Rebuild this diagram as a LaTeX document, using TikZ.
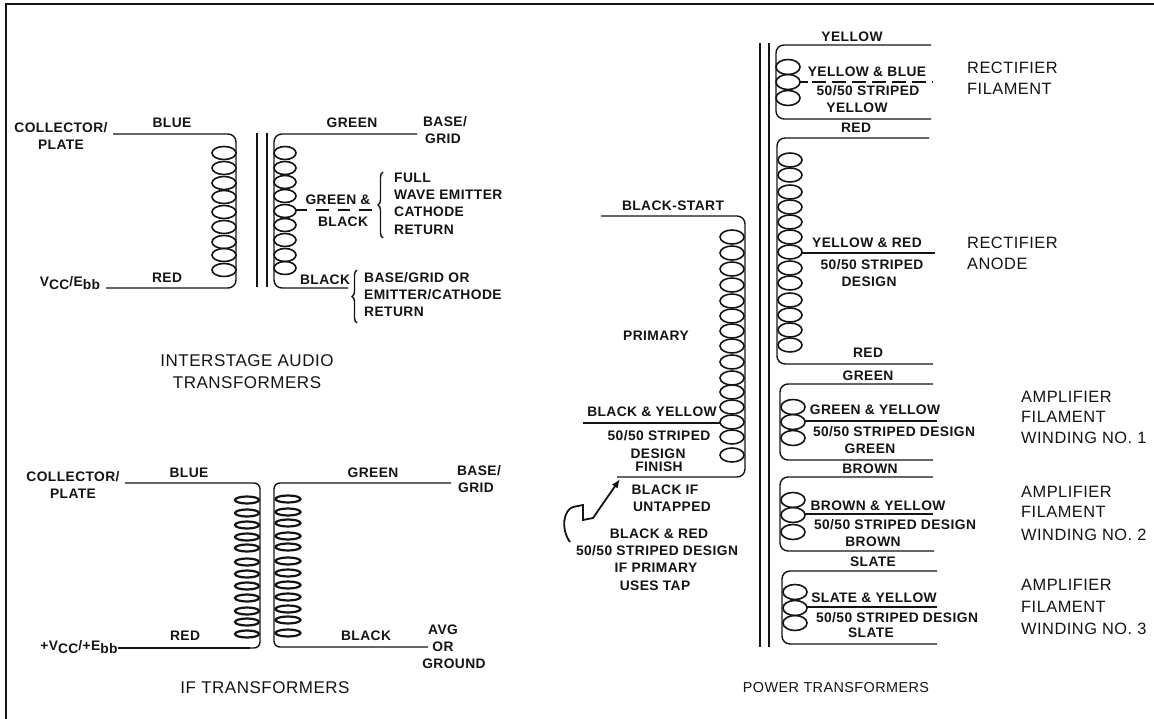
\documentclass[tikz,border=0pt]{standalone}
\usepackage{fontspec}
\setmainfont{Liberation Sans}[LetterSpace=3]
\usetikzlibrary{arrows.meta,decorations.pathreplacing}
\definecolor{wirecol}{RGB}{20,20,20}
\newcommand{\lowtxt}[1]{\raisebox{-3.5pt}{#1}}
\tikzset{
  wire/.style={wirecol, line width=1.4pt, rounded corners=8pt},
  tapline/.style={wirecol, line width=1.5pt},
  stripe/.style={wirecol, line width=1.7pt, dash pattern=on 12.5pt off 9pt},
  corebar/.style={wirecol, line width=1.3pt},
  loopa/.style={wirecol, line width=1.6pt},
  lbl/.style={font=\fontsize{13.8}{16}\selectfont\bfseries, inner sep=0pt, text=wirecol},
  sidelbl/.style={lbl, anchor=west},
  bigleg/.style={font=\fontsize{17}{19}\selectfont, inner sep=0pt, text=wirecol},
  bigside/.style={bigleg, anchor=west, font=\fontsize{16.4}{19}\selectfont},
  curly/.style={wirecol, line width=1.4pt, decorate, decoration={brace, amplitude=5pt}}
}
\begin{document}
\begin{tikzpicture}[x=1pt,y=-1pt]
\useasboundingbox (0,0) rectangle (1154,719);
% Frame
\draw[wirecol, line width=1.6pt] (6,719) -- (6,4) -- (1154,4);
% Interstage audio, left winding
\coordinate (iaPlate) at (113,134);
\coordinate (iaVcc) at (106,288);
\draw[wire] (iaPlate) -| (236,210) |- (iaVcc);
\foreach \y in {153,168,183,197,212,227,242,255,270}
  \draw[loopa] (224,\y) ellipse (12 and 6.5);
\node[lbl] (iaCollector) at (61,128) {COLLECTOR/};
\node[lbl] (iaPlateLbl) at (61,145) {PLATE};
\node[lbl] (iaBlue) at (172,123) {BLUE};
\node[lbl] (iaRed) at (167,278) {RED};
\node[lbl] (iaVccLbl) at (70,283) {V\lowtxt{CC}/E\lowtxt{bb}};
% Interstage audio, core
\coordinate (iaCoreA) at (257,133);
\coordinate (iaCoreB) at (267,133);
\draw[corebar] (iaCoreA) -- ++(0,154);
\draw[corebar] (iaCoreB) -- ++(0,154);
% Interstage audio, right winding
\coordinate (iaBase) at (417,134);
\coordinate (iaBlack) at (348,288);
\draw[wire] (iaBase) -| (274,210) |- (iaBlack);
\foreach \y in {153,168,182,196,211,225,240,255,268}
  \draw[loopa] (285,\y) ellipse (11 and 6.5);
\coordinate (iaTapA) at (295,210);
\coordinate (iaTapB) at (307,210);
\coordinate (iaTapC) at (373,210);
\draw[tapline] (iaTapA) -- (iaTapB);
\draw[stripe] (316,210) -- (iaTapC);
\node[lbl] (iaGreen) at (352,123) {GREEN};
\node[lbl] (iaBaseLbl) at (445,122) {BASE/};
\node[lbl] (iaGrid) at (443,139) {GRID};
\node[lbl] (iaGreenAnd) at (338,200) {GREEN \&};
\node[lbl] (iaBlackLbl) at (343,222) {BLACK};
\node[lbl] (iaBlackEnd) at (325,280) {BLACK};
\draw[curly] (383,238) -- (383,172);
\node[sidelbl] (iaFull) at (394,178) {FULL};
\node[sidelbl] (iaWave) at (394,195) {WAVE EMITTER};
\node[sidelbl] (iaCathode) at (394,212) {CATHODE};
\node[sidelbl] (iaReturn) at (394,230) {RETURN};
\draw[curly] (357,323) -- (357,270);
\node[sidelbl] (iaBaseGrid) at (364,278) {BASE/GRID OR};
\node[sidelbl] (iaEmitter) at (364,295) {EMITTER/CATHODE};
\node[sidelbl] (iaReturnB) at (364,312) {RETURN};
\node[bigleg] (iaTitleA) at (247,361) {INTERSTAGE AUDIO};
\node[bigleg] (iaTitleB) at (247,383) {TRANSFORMERS};
% IF transformers
\coordinate (ifPlate) at (125,483);
\coordinate (ifVcc) at (118,648);
\draw[wire, rounded corners=6pt] (ifPlate) -| (260,560) |- (ifVcc);
\draw[wirecol, line width=2.2pt] (ifVcc) -- (250,648);
\foreach \y in {500,513,525,537,548,562,574,586,598,611,622,634}
  \draw[loopa, line width=2.2pt] (247,\y) ellipse (12 and 3.5);
\coordinate (ifBase) at (451,483);
\coordinate (ifAvg) at (428,647);
\draw[wire, rounded corners=6pt] (ifBase) -| (274,560) |- (ifAvg);
\foreach \y in {499,512,523,536,547,561,573,585,597,609,620,633}
  \draw[loopa, line width=2.2pt] (288,\y) ellipse (12.5 and 3.5);
\node[lbl] (ifCollector) at (73,477) {COLLECTOR/};
\node[lbl] (ifPlateLbl) at (73,494) {PLATE};
\node[lbl] (ifBlue) at (189,473) {BLUE};
\node[lbl] (ifRed) at (185,636) {RED};
\node[lbl] (ifVccLbl) at (79,647) {+V\lowtxt{CC}/+E\lowtxt{bb}};
\node[lbl] (ifGreen) at (373,473) {GREEN};
\node[lbl] (ifBaseLbl) at (479,471) {BASE/};
\node[lbl] (ifGrid) at (476,488) {GRID};
\node[lbl] (ifBlack) at (366,636) {BLACK};
\node[lbl] (ifAvgLbl) at (443,630) {AVG};
\node[lbl] (ifOr) at (443,647) {OR};
\node[lbl] (ifGround) at (454,664) {GROUND};
\node[bigleg] (ifTitle) at (265,688) {IF TRANSFORMERS};
% Power transformers, primary
\coordinate (ptStart) at (601,216);
\coordinate (ptFinish) at (617,477);
\draw[wire] (ptStart) -| (745,340) |- (ptFinish);
\foreach \y in {237,253,269,285,301,316,331,346,362,378,392,407,422,437,455}
  \draw[loopa] (732,\y) ellipse (12 and 7);
\coordinate (ptTapA) at (583,423);
\coordinate (ptTapB) at (720,423);
\draw[tapline] (ptTapA) -- (ptTapB);
\node[lbl] (ptBlackStart) at (673,206) {BLACK-START};
\node[lbl] (ptPrimary) at (656,336) {PRIMARY};
\node[lbl] (ptBlackYellow) at (652,412) {BLACK \& YELLOW};
\node[lbl] (ptStripedA) at (659,436) {50/50 STRIPED};
\node[lbl] (ptDesignA) at (658,454) {DESIGN};
\node[lbl] (ptFinishLbl) at (659,467) {FINISH};
\node[lbl] (ptBlackIf) at (665,490) {BLACK IF};
\node[lbl] (ptUntapped) at (672,507) {UNTAPPED};
\node[lbl] (ptBlackRed) at (659,534) {BLACK \& RED};
\node[lbl] (ptStripedB) at (657,551) {50/50 STRIPED DESIGN};
\node[lbl] (ptIfPrimary) at (656,568) {IF PRIMARY};
\node[lbl] (ptUsesTap) at (655,586) {USES TAP};
\coordinate (ptPointer) at (570,542);
\coordinate (ptPointerEnd) at (620,479);
\draw[wirecol, line width=1.8pt, -{Latex[length=9pt,width=7pt]}] (ptPointer)
  .. controls (560,528) and (564,510) .. (573,507) -- (583,505) -- (583,520) -- (593,518) -- (ptPointerEnd);
% Power transformers, core
\coordinate (ptCoreA) at (760,43);
\coordinate (ptCoreB) at (769,43);
\draw[corebar] (ptCoreA) -- ++(0,604);
\draw[corebar] (ptCoreB) -- ++(0,604);
% Rectifier filament
\coordinate (rfTop) at (931,45);
\coordinate (rfBot) at (931,119);
\draw[wire] (rfTop) -| (776,82) |- (rfBot);
\foreach \y in {67,82,98}
  \draw[loopa] (788,\y) ellipse (12 and 7.5);
\coordinate (rfTapA) at (800,82);
\coordinate (rfTapB) at (933,82);
\draw[tapline] (rfTapA) -- (808,82);
\draw[stripe, dash pattern=on 13.5pt off 6.5pt] (812,82) -- (rfTapB);
\node[lbl] (rfYellowA) at (852,37) {YELLOW};
\node[lbl] (rfYellowBlue) at (867,72) {YELLOW \& BLUE};
\node[lbl] (rfStriped) at (868,91) {50/50 STRIPED};
\node[lbl] (rfYellowB) at (857,108) {YELLOW};
\node[bigside] (rfNameA) at (967,68) {RECTIFIER};
\node[bigside] (rfNameB) at (967,89) {FILAMENT};
% Rectifier anode
\coordinate (raTop) at (929,138);
\coordinate (raBot) at (933,364);
\draw[wire] (raTop) -| (777,253) |- (raBot);
\foreach \y in {160,175,192,207,222,237,252,268,283,300,315,330,345}
  \draw[loopa] (790,\y) ellipse (12 and 7);
\coordinate (raTapA) at (802,253);
\coordinate (raTapB) at (935,253);
\draw[tapline] (raTapA) -- (raTapB);
\node[lbl] (raRedA) at (856,128) {RED};
\node[lbl] (raYellowRed) at (867,243) {YELLOW \& RED};
\node[lbl] (raStriped) at (872,265) {50/50 STRIPED};
\node[lbl] (raDesign) at (869,282) {DESIGN};
\node[lbl] (raRedB) at (868,353) {RED};
\node[bigside] (raNameA) at (967,243) {RECTIFIER};
\node[bigside] (raNameB) at (967,264) {ANODE};
% Amplifier filament 1
\coordinate (afaTop) at (933,384);
\coordinate (afaBot) at (933,460);
\draw[wire] (afaTop) -| (780,421) |- (afaBot);
\foreach \y in {407,422,438}
  \draw[loopa] (793,\y) ellipse (12 and 7.5);
\coordinate (afaTapA) at (805,421);
\coordinate (afaTapB) at (937,421);
\draw[tapline] (afaTapA) -- (afaTapB);
\node[lbl] (afaGreenA) at (868,376) {GREEN};
\node[lbl] (afaGreenYellow) at (875,410) {GREEN \& YELLOW};
\node[lbl] (afaStriped) at (894,432) {50/50 STRIPED DESIGN};
\node[lbl] (afaGreenB) at (870,449) {GREEN};
\node[bigside] (afaNameA) at (1021,397) {AMPLIFIER};
\node[bigside] (afaNameB) at (1021,417) {FILAMENT};
\node[bigside] (afaNameC) at (1021,438) {WINDING NO. 1};
% Amplifier filament 2
\coordinate (afbTop) at (933,477);
\coordinate (afbBot) at (934,551);
\draw[wire] (afbTop) -| (780,514) |- (afbBot);
\foreach \y in {500,515,532}
  \draw[loopa] (793,\y) ellipse (12 and 7.5);
\coordinate (afbTapA) at (805,514);
\coordinate (afbTapB) at (933,514);
\draw[tapline] (afbTapA) -- (afbTapB);
\node[lbl] (afbBrownA) at (870,469) {BROWN};
\node[lbl] (afbBrownYellow) at (878,506) {BROWN \& YELLOW};
\node[lbl] (afbStriped) at (895,525) {50/50 STRIPED DESIGN};
\node[lbl] (afbBrownB) at (873,542) {BROWN};
\node[bigside] (afbNameA) at (1021,492) {AMPLIFIER};
\node[bigside] (afbNameB) at (1021,512) {FILAMENT};
\node[bigside] (afbNameC) at (1021,535) {WINDING NO. 2};
% Amplifier filament 3
\coordinate (afcTop) at (937,571);
\coordinate (afcBot) at (937,644);
\draw[wire] (afcTop) -| (782,607) |- (afcBot);
\foreach \y in {592,608,623}
  \draw[loopa] (795,\y) ellipse (12 and 7.5);
\coordinate (afcTapA) at (807,607);
\coordinate (afcTapB) at (937,607);
\draw[tapline] (afcTapA) -- (afcTapB);
\node[lbl] (afcSlateA) at (873,562) {SLATE};
\node[lbl] (afcSlateYellow) at (874,598) {SLATE \& YELLOW};
\node[lbl] (afcStriped) at (897,618) {50/50 STRIPED DESIGN};
\node[lbl] (afcSlateB) at (871,633) {SLATE};
\node[bigside] (afcNameA) at (1021,585) {AMPLIFIER};
\node[bigside] (afcNameB) at (1021,607) {FILAMENT};
\node[bigside] (afcNameC) at (1021,629) {WINDING NO. 3};
\node[bigleg, font=\fontsize{14.4}{16}\selectfont] (ptTitle) at (836,688) {POWER TRANSFORMERS};
\end{tikzpicture}
\end{document}
